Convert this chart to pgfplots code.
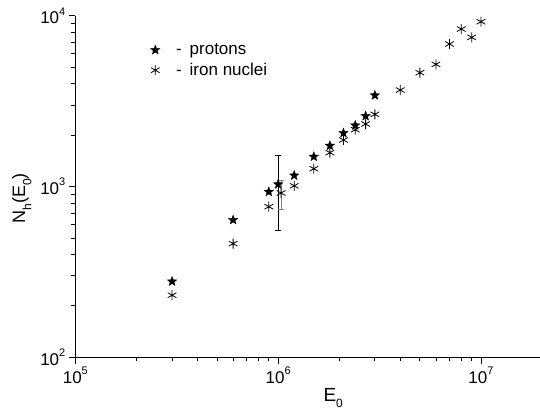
\documentclass[border=0pt]{standalone}
\usepackage{fontspec}
\setmainfont{Liberation Sans}
\usepackage{pgfplots}
\pgfplotsset{compat=1.18}
\newcommand{\sups}[1]{\raisebox{0.5em}{\fontsize{11}{11}\selectfont #1}}
\newcommand{\subs}[1]{\raisebox{-0.35em}{\fontsize{12}{12}\selectfont #1}}
\pgfdeclareplotmark{fstar}{%
  \pgfpathmoveto{\pgfpointpolar{90}{\pgfplotmarksize}}%
  \pgfpathlineto{\pgfpointpolar{126}{0.42\pgfplotmarksize}}%
  \pgfpathlineto{\pgfpointpolar{162}{\pgfplotmarksize}}%
  \pgfpathlineto{\pgfpointpolar{198}{0.42\pgfplotmarksize}}%
  \pgfpathlineto{\pgfpointpolar{234}{\pgfplotmarksize}}%
  \pgfpathlineto{\pgfpointpolar{270}{0.42\pgfplotmarksize}}%
  \pgfpathlineto{\pgfpointpolar{306}{\pgfplotmarksize}}%
  \pgfpathlineto{\pgfpointpolar{342}{0.42\pgfplotmarksize}}%
  \pgfpathlineto{\pgfpointpolar{18}{\pgfplotmarksize}}%
  \pgfpathlineto{\pgfpointpolar{54}{0.42\pgfplotmarksize}}%
  \pgfpathclose\pgfusepathqfillstroke}
\begin{document}
\begin{tikzpicture}
\begin{axis}[
  xmode=log, ymode=log,
  scale only axis, width=464.7pt, height=341.6pt,
  xmin=1e5, xmax=1.956e7, ymin=1e2, ymax=1e4,
  axis lines*=left,
  axis line style={-, line width=0.9pt},
  tick align=outside,
  major tick length=6.5pt, minor tick length=4pt,
  tick style={black, line width=0.8pt},
  xtick={1e5,1e6,1e7},
  xticklabels={10\sups{5},10\sups{6},10\sups{7}},
  ytick={1e2,1e3,1e4},
  yticklabels={10\sups{2},10\sups{3},10\sups{4}},
  minor xtick={2e5,3e5,4e5,5e5,6e5,7e5,8e5,9e5,2e6,3e6,4e6,5e6,6e6,7e6,8e6,9e6},
  minor ytick={200,300,400,500,600,700,800,900,2000,3000,4000,5000,6000,7000,8000,9000},
  ticklabel style={font=\fontsize{17}{19}\selectfont},
  xlabel={E\subs{0}},
  ylabel={N\subs{h}(E\subs{0})},
  xlabel style={at={(axis description cs:0.555,-0.128)}, anchor=base, font=\fontsize{19}{21}\selectfont},
  ylabel style={at={(axis description cs:-0.108,0.465)}, anchor=base, font=\fontsize{18}{20}\selectfont},
  legend style={draw=none, fill=none, at={(axis description cs:0.155,0.93)}, anchor=north west,
    font=\fontsize{17}{19}\selectfont, row sep=3pt},
  legend cell align=left,
  clip=false,
]
\coordinate (bl) at (rel axis cs:0,0);
\addplot[forget plot, draw=none, mark=none,
  error bars/.cd, y dir=both, y explicit,
  error bar style={black, line width=0.8pt},
  error mark options={rotate=90, mark size=3pt, black, line width=0.8pt}]
  coordinates {(1e6,1030) += (0,484) -= (0,479)};
\addplot[forget plot, draw=none, mark=none,
  error bars/.cd, y dir=both, y explicit,
  error bar style={gray, line width=0.8pt},
  error mark options={rotate=90, mark size=3pt, gray, line width=0.8pt}]
  coordinates {(1.034e6,916) += (0,176) -= (0,180)};
\addplot[only marks, mark=fstar, mark size=5pt, mark options={fill=black, draw=black, line width=0.3pt}]
  coordinates {
  (3e5,278) (6e5,637) (9e5,931) (1e6,1030) (1.2e6,1160) (1.5e6,1495)
  (1.8e6,1734) (2.1e6,2057) (2.4e6,2280) (2.7e6,2586) (3e6,3418)
  };
\addlegendentry{\hspace{14pt}-\hspace{8pt}protons}
\addplot[only marks, mark=asterisk, mark size=5pt, mark options={draw=black, line width=0.8pt}]
  coordinates {
  (3e5,231) (6e5,463) (9e5,762) (1.034e6,916) (1.2e6,1009) (1.5e6,1271)
  (1.8e6,1578) (2.1e6,1872) (2.4e6,2151) (2.7e6,2322) (3e6,2645)
  (4e6,3671) (5e6,4637) (6e6,5189) (7e6,6826) (8e6,8355) (9e6,7465) (1e7,9220)
  };
\addlegendentry{\hspace{14pt}-\hspace{8pt}iron nuclei}
\end{axis}
\pgfresetboundingbox
\path[use as bounding box] ([shift={(-75.3pt,-51.7pt)}]bl) rectangle ([shift={(464.7pt,357.3pt)}]bl);
\end{tikzpicture}
\end{document}
